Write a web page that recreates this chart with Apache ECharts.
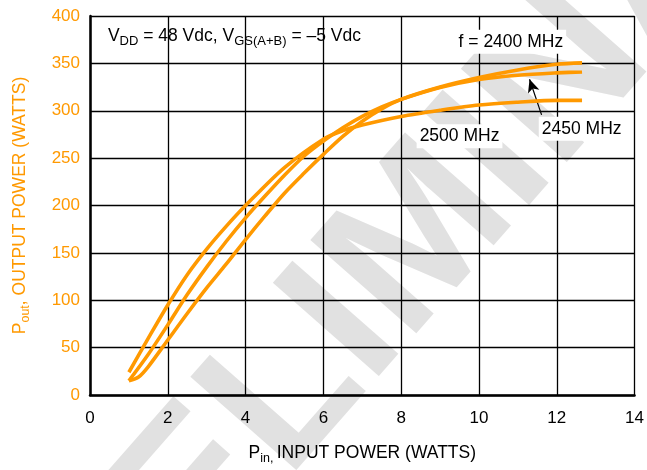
<!DOCTYPE html>
<html>
<head>
<meta charset="utf-8">
<script src="https://cdn.jsdelivr.net/npm/echarts@6/dist/echarts.min.js"></script>
<style>
html,body{margin:0;padding:0;background:#fff;}
#c{width:647px;height:470px;}
</style>
</head>
<body>
<div id="c"></div>
<script>
// ---- data ----
const xTicksMin = 0, xTicksMax = 14, xTickStep = 2;
const yTicksMin = 0, yTicksMax = 400, yTickStep = 50;

const pin2400  = [1.0, 1.25, 1.5, 2.0, 2.5, 3.0, 3.5, 4.0, 4.5, 5.0, 5.5, 6.0, 6.5, 7.0, 7.5, 8.0, 9.0, 10.0, 11.0, 12.0, 12.65];
const pout2400 = [15, 19, 30, 58, 86, 113, 138, 164, 189, 213, 234, 254, 273, 289, 302, 312, 325, 335, 343, 349, 350.5];

const pin2450  = [1.0, 1.5, 2.0, 2.5, 3.0, 3.5, 4.0, 4.5, 5.0, 5.5, 6.0, 6.5, 7.0, 7.5, 8.0, 9.0, 10.0, 11.0, 12.0, 12.65];
const pout2450 = [15, 43, 74, 106, 135, 162, 187, 210, 232, 252, 268, 282, 294, 304, 312, 324.5, 333, 337.5, 340, 341];

const pin2500  = [1.0, 1.5, 2.0, 2.5, 3.0, 3.5, 4.0, 5.0, 6.0, 6.5, 7.0, 8.0, 9.0, 10.0, 11.0, 12.0, 12.65];
const pout2500 = [24, 60, 95, 127, 154, 178, 200, 240, 270, 279, 285, 294, 300.5, 306, 309, 311, 311];

const seriesNames = ['2400 MHz', '2450 MHz', '2500 MHz'];
// annotation anchors (data units)
const arrowTail = [11.61, 295.6];
const arrowTip  = [11.30, 333.2];
const labelVdd  = [0.46, 379];
const label2400 = [10.82, 372.8];
const label2500 = [9.5, 273];
const label2450 = [12.64, 281];

// ---- build ----
const ORANGE = '#ff9900';
const FONT = '"Liberation Sans", Arial, sans-serif';
function pairs(xs, ys){ return xs.map((x,i)=>[x, ys[i]]); }

const chart = echarts.init(document.getElementById('c'), null, {renderer:'canvas'});

const lineSeries = (name, xs, ys, extra) => Object.assign({
  name, type:'line', data: pairs(xs, ys), showSymbol:false, symbol:'none',
  smooth:0.3, lineStyle:{color:ORANGE, width:3.6}, z:5, silent:true
}, extra||{});

const option = {
  animation:false,
  backgroundColor:'#fff',
  grid:{left:90, right:12, top:16, bottom:71, containLabel:false},
  xAxis:{
    type:'value', min:xTicksMin, max:xTicksMax, interval:xTickStep,
    name:'{m|P}{s|in,} {m|INPUT POWER (WATTS)}', nameLocation:'middle', nameGap:46,
    nameTextStyle:{
      rich:{
        m:{fontSize:17.5, fontFamily:FONT, color:'#000', lineHeight:24},
        s:{fontSize:12.5, fontFamily:FONT, color:'#000', lineHeight:12, verticalAlign:'bottom'}
      }
    },
    axisLine:{show:true, onZero:false, lineStyle:{color:'#000', width:2.5}},
    axisTick:{show:false},
    axisLabel:{color:'#000', fontSize:17, fontFamily:FONT, margin:15},
    splitLine:{show:true, lineStyle:{color:'#000', width:1.3}}
  },
  yAxis:{
    type:'value', min:yTicksMin, max:yTicksMax, interval:yTickStep,
    name:'{m|P}{s|out}{m|, OUTPUT POWER (WATTS)}', nameLocation:'middle', nameGap:58, nameRotate:90,
    nameTextStyle:{
      rich:{
        m:{fontSize:17.5, fontFamily:FONT, color:ORANGE, lineHeight:24},
        s:{fontSize:12.5, fontFamily:FONT, color:ORANGE, lineHeight:12, verticalAlign:'bottom'}
      }
    },
    axisLine:{show:true, onZero:false, lineStyle:{color:'#000', width:2.5}},
    axisTick:{show:false},
    axisLabel:{color:ORANGE, fontSize:17, fontFamily:FONT, margin:10},
    splitLine:{show:true, lineStyle:{color:'#000', width:1.3}}
  },
  series:[
    lineSeries(seriesNames[0], pin2400, pout2400),
    lineSeries(seriesNames[1], pin2450, pout2450, {
      markLine:{
        silent:true, animation:false,
        symbol:['none','arrow'], symbolSize:[9,13],
        label:{show:false},
        lineStyle:{color:'#000', width:1.2, type:'solid'},
        data:[[{coord:arrowTail},{coord:arrowTip}]]
      }
    }),
    lineSeries(seriesNames[2], pin2500, pout2500)
  ]
};
chart.setOption(option);

const px = p => chart.convertToPixel({gridIndex:0}, p);
const pVdd = px(labelVdd), p2400 = px(label2400), p2500 = px(label2500), p2450 = px(label2450);
const richMain = {
  m:{fontSize:17.5, fontFamily:FONT, fill:'#000', lineHeight:24},
  s:{fontSize:13, fontFamily:FONT, fill:'#000', lineHeight:12, verticalAlign:'bottom'}
};
function boxText(p, txt, bg){
  return {
    type:'text', x:p[0], y:p[1], z:50,
    style:{
      text:txt, font:'17.5px ' + FONT, fill:'#000',
      align:'center', verticalAlign:'middle',
      backgroundColor: bg ? '#fff' : null, padding: bg ? [3,3,3,3] : 0
    }
  };
}
chart.setOption({
  graphic:[
    {
      type:'text', x:430, y:232, rotation:0.85, z:-100, silent:true,
      style:{text:'PRELIMINARY', font:'bold 205px ' + FONT, fill:'#e1e1e1', align:'center', verticalAlign:'middle'}
    },
    {
      type:'text', x:pVdd[0], y:pVdd[1], z:50,
      style:{
        text:'{m|V}{s|DD}{m| = 48 Vdc, V}{s|GS(A+B)}{m| = \u20135 Vdc}',
        rich:richMain, align:'left', verticalAlign:'middle'
      }
    },
    boxText(p2400, 'f = 2400 MHz', true),
    boxText(p2500, '2500 MHz', true),
    boxText(p2450, '2450 MHz', true)
  ]
});
</script>
</body>
</html>
